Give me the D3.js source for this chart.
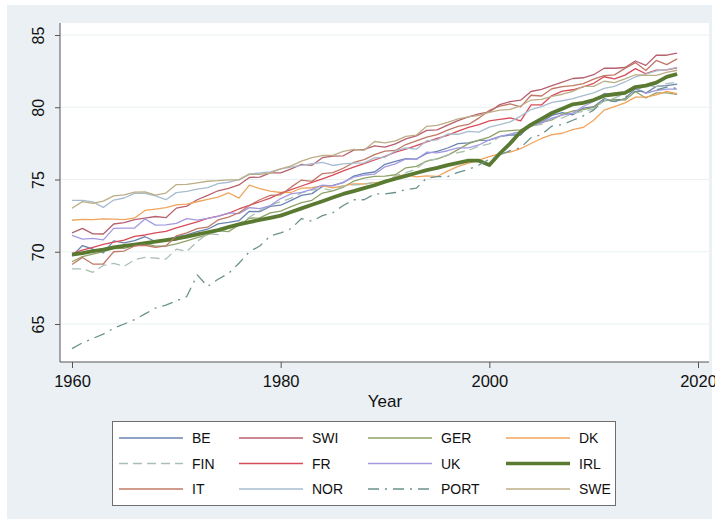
<!DOCTYPE html>
<html>
<head>
<meta charset="utf-8">
<script src="https://cdn.jsdelivr.net/npm/d3@7"></script>
<style>
  html, body { margin: 0; padding: 0; background: #ffffff; }
  svg { display: block; font-family: "Liberation Sans", Arial, Helvetica, sans-serif; }
</style>
</head>
<body>
<svg id="chart" width="715" height="523"></svg>
<script>
// ---------- data (life expectancy at birth, 1960-2018) ----------
const years = d3.range(1960, 2019);
const xTicks = [1960, 1980, 2000, 2020];
const yTicks = [65, 70, 75, 80, 85];
const countries = ["BE", "SWI", "GER", "DK", "FIN", "FR", "UK", "IRL", "IT", "NOR", "PORT", "SWE"];

const BE = [69.70,70.43,70.18,69.92,70.75,70.62,70.77,71.04,70.71,70.76,
  71.04,71.16,71.40,71.56,71.93,72.03,72.15,72.80,72.77,73.14,
  73.22,73.56,73.90,74.02,74.51,74.59,74.78,75.23,75.42,75.52,
  76.05,76.25,76.45,76.41,76.81,76.95,77.18,77.48,77.53,77.71,
  77.72,77.97,78.08,78.08,78.83,78.98,79.43,79.63,79.48,79.94,
  80.04,80.59,80.39,80.59,81.29,80.99,81.44,81.49,81.60];
const SWI = [71.31,71.62,71.24,71.23,71.92,72.01,72.23,72.33,72.44,72.36,
  73.02,73.16,73.60,73.90,74.22,74.38,74.62,75.14,75.17,75.46,
  75.46,75.74,76.04,75.98,76.51,76.62,76.64,77.03,77.09,77.33,
  77.24,77.46,77.81,78.02,78.40,78.43,78.76,79.08,79.33,79.54,
  79.68,80.18,80.39,80.49,81.09,81.24,81.49,81.74,81.99,82.04,
  82.25,82.70,82.70,82.75,83.20,82.90,83.60,83.60,83.75];
const GER = [69.31,69.66,69.83,70.01,70.22,70.24,70.42,70.56,70.39,70.39,
  70.54,70.75,70.97,71.19,71.44,71.39,71.85,72.32,72.35,72.69,
  72.81,73.12,73.40,73.56,74.06,74.21,74.47,74.88,75.09,75.22,
  75.23,75.33,75.81,75.91,76.27,76.42,76.67,77.07,77.48,77.73,
  77.93,78.33,78.38,78.43,78.68,78.93,79.13,79.53,79.74,79.84,
  79.99,80.44,80.54,80.49,81.09,80.64,80.99,80.99,80.89];
const DK = [72.18,72.24,72.23,72.28,72.26,72.23,72.34,72.86,72.95,73.05,
  73.24,73.29,73.46,73.63,73.78,74.08,73.71,74.61,74.37,74.20,
  74.10,74.10,74.41,74.43,74.56,74.43,74.56,74.70,74.69,74.79,
  74.81,75.21,75.33,75.18,75.25,75.21,75.58,75.91,76.14,76.34,
  76.59,76.79,76.90,77.14,77.49,77.84,78.10,78.20,78.45,78.60,
  79.10,79.80,80.05,80.30,80.70,80.70,80.85,81.10,80.95];
const FIN = [68.82,68.82,68.58,69.05,69.20,68.99,69.45,69.61,69.56,69.49,
  70.18,70.02,70.71,71.25,71.19,71.73,71.95,72.39,72.86,73.21,
  73.46,73.71,74.07,74.27,74.39,74.23,74.55,74.63,74.66,74.81,
  74.81,75.26,75.47,75.72,76.33,76.41,76.71,76.86,77.01,77.31,
  77.47,77.97,78.12,78.37,78.68,78.82,79.22,79.26,79.57,79.72,
  79.87,80.47,80.63,80.98,81.18,81.48,81.43,81.63,81.73];
const FR = [69.87,70.12,70.31,70.51,70.66,70.81,71.06,71.16,71.31,71.41,
  71.66,71.86,72.06,72.31,72.46,72.66,72.96,73.21,73.46,73.71,
  74.05,74.30,74.55,74.80,75.05,75.30,75.60,75.85,76.10,76.35,
  76.60,76.90,77.10,77.35,77.60,77.85,78.05,78.35,78.60,78.80,
  79.06,79.16,79.26,79.06,80.16,80.16,80.81,81.11,81.21,81.41,
  81.66,82.11,81.97,82.22,82.67,82.32,82.57,82.58,82.72];
const UK = [71.13,70.88,70.93,70.82,71.62,71.63,71.64,72.27,71.84,71.86,
  71.97,72.29,72.19,72.31,72.45,72.69,72.64,73.05,72.99,73.19,
  73.68,74.01,74.11,74.31,74.61,74.56,74.82,75.16,75.31,75.37,
  75.88,76.08,76.43,76.39,76.89,76.84,76.99,77.19,77.19,77.39,
  77.74,77.99,78.14,78.29,78.74,78.94,79.25,79.45,79.60,80.05,
  80.40,80.95,80.90,81.00,81.30,80.96,81.16,81.26,81.26];
const IRL = [69.80,69.90,70.05,70.15,70.30,70.40,70.50,70.60,70.70,70.80,
  70.90,71.05,71.20,71.35,71.50,71.70,71.90,72.05,72.20,72.35,
  72.50,72.75,73.00,73.25,73.50,73.75,74.00,74.20,74.40,74.60,
  74.85,75.05,75.25,75.45,75.65,75.80,76.00,76.15,76.30,76.30,
  76.00,76.80,77.50,78.30,78.80,79.20,79.60,79.90,80.20,80.30,
  80.50,80.80,80.90,81.00,81.40,81.50,81.70,82.10,82.30];
const IT = [69.12,69.60,69.15,69.15,70.00,70.05,70.40,70.45,70.30,70.40,
  71.10,71.30,71.60,71.70,72.20,72.40,72.70,73.20,73.60,73.90,
  73.94,74.47,74.96,74.87,75.41,75.47,75.78,76.18,76.38,76.72,
  76.97,77.01,77.42,77.68,77.93,78.11,78.42,78.67,78.81,79.25,
  79.78,80.08,80.23,80.03,80.83,80.78,81.28,81.43,81.49,81.64,
  81.95,82.19,82.24,82.69,83.09,82.54,83.24,82.95,83.35];
const NOR = [73.55,73.55,73.45,73.07,73.58,73.72,74.04,74.04,73.86,73.60,
  74.09,74.18,74.34,74.44,74.71,74.81,74.99,75.39,75.45,75.53,
  75.73,75.86,75.98,76.09,76.18,75.97,76.08,76.13,76.15,76.50,
  76.54,76.98,77.18,77.10,77.68,77.74,78.15,78.13,78.33,78.28,
  78.63,78.79,78.99,79.39,79.84,80.04,80.34,80.45,80.59,80.80,
  81.00,81.30,81.45,81.75,82.10,82.30,82.51,82.61,82.76];
const PORT = [63.3,63.7,64.0,64.3,64.7,65.0,65.3,65.7,66.1,66.3,
  66.6,66.9,68.4,67.6,68.1,68.5,69.2,70.0,70.4,71.1,
  71.3,71.6,72.3,72.1,72.5,72.7,73.2,73.6,73.6,74.0,
  74.0,74.1,74.3,74.4,75.1,75.2,75.2,75.5,75.7,76.0,
  76.4,76.7,77.0,77.2,77.9,78.1,78.7,78.8,79.1,79.4,
  79.8,80.5,80.4,80.7,81.1,81.1,81.2,81.4,81.3];
const SWE = [73.01,73.47,73.35,73.50,73.87,73.93,74.12,74.15,73.92,74.06,
  74.65,74.66,74.77,74.88,74.92,74.98,74.97,75.35,75.35,75.45,
  75.74,75.94,76.27,76.51,76.66,76.67,76.94,77.09,77.02,77.63,
  77.54,77.67,77.99,78.07,78.68,78.74,78.96,79.20,79.34,79.44,
  79.64,79.80,79.85,80.10,80.50,80.55,80.75,80.90,81.10,81.45,
  81.45,81.80,81.70,81.96,82.25,82.20,82.21,82.41,82.56];

const seriesValues = {BE, SWI, GER, DK, FIN, FR, UK, IRL, IT, NOR, PORT, SWE};

// ---------- styles ----------
const styles = {
  BE:   {color: "#6a84b0", width: 1.3, dash: null},
  SWI:  {color: "#b8606e", width: 1.3, dash: null},
  GER:  {color: "#8fa268", width: 1.3, dash: null},
  DK:   {color: "#f0a45c", width: 1.3, dash: null},
  FIN:  {color: "#a8c0b4", width: 1.3, dash: "9,5"},
  FR:   {color: "#d84c5a", width: 1.3, dash: null},
  UK:   {color: "#a49ae0", width: 1.3, dash: null},
  IRL:  {color: "#5a7a32", width: 3.8, dash: null},
  IT:   {color: "#c07866", width: 1.3, dash: null},
  NOR:  {color: "#a8bccf", width: 1.3, dash: null},
  PORT: {color: "#6a928c", width: 1.3, dash: "11,6,2,6"},
  SWE:  {color: "#bcae86", width: 1.3, dash: null}
};

// ---------- layout ----------
const svg = d3.select("#chart");
const plot = {left: 60, top: 23, right: 709, bottom: 362};

svg.append("rect").attr("x", 7).attr("y", 5).attr("width", 705).attr("height", 514)
  .attr("fill", "#eaf0f3");
svg.append("rect").attr("x", plot.left).attr("y", plot.top)
  .attr("width", plot.right - plot.left).attr("height", plot.bottom - plot.top)
  .attr("fill", "#ffffff");

const x = d3.scaleLinear().domain([1960, 2020]).range([72, 698]);
const y = d3.scaleLinear().domain([65, 85]).range([324, 35]);

// gridlines
svg.append("g").selectAll("line").data(yTicks).join("line")
  .attr("x1", plot.left).attr("x2", plot.right)
  .attr("y1", d => y(d)).attr("y2", d => y(d))
  .attr("stroke", "#eaf0f2").attr("stroke-width", 1.2);

// lines
const line = d3.line().x((d, i) => x(years[i])).y(d => y(d));
const gLines = svg.append("g");
countries.forEach(c => {
  const s = styles[c];
  gLines.append("path")
    .datum(seriesValues[c])
    .attr("d", line)
    .attr("fill", "none")
    .attr("stroke", s.color)
    .attr("stroke-width", s.width)
    .attr("stroke-linejoin", "round")
    .attr("stroke-dasharray", s.dash);
});

// axes
const axisColor = "#555555";
const yAxis = svg.append("g").attr("transform", `translate(${plot.left},0)`)
  .call(d3.axisLeft(y).tickValues(yTicks).tickSize(5).tickPadding(0).tickFormat(d3.format("d")));
yAxis.select(".domain").attr("d", `M0,${plot.top}V${plot.bottom}`).attr("stroke", axisColor);
yAxis.selectAll(".tick line").attr("stroke", axisColor);
yAxis.selectAll(".tick text")
  .attr("x", 0).attr("y", 0).attr("dy", null)
  .attr("transform", "translate(-16.5,0) rotate(-90)")
  .attr("text-anchor", "middle")
  .attr("fill", "#111").attr("font-size", 16);

const xAxis = svg.append("g").attr("transform", `translate(0,${plot.bottom})`)
  .call(d3.axisBottom(x).tickValues(xTicks).tickSize(6).tickFormat(d3.format("d")));
xAxis.select(".domain").attr("d", `M${plot.left},0H${plot.right}`).attr("stroke", axisColor);
xAxis.selectAll(".tick line").attr("stroke", axisColor);
xAxis.selectAll(".tick text")
  .attr("y", 25).attr("dy", null)
  .attr("fill", "#111").attr("font-size", 16.5);

svg.append("text").attr("x", 385).attr("y", 407).attr("text-anchor", "middle")
  .attr("font-size", 17).attr("fill", "#111").text("Year");

// legend
const lg = svg.append("g");
lg.append("rect").attr("x", 112.5).attr("y", 421.5).attr("width", 503).attr("height", 84)
  .attr("fill", "#ffffff").attr("stroke", "#6e6e6e").attr("stroke-width", 1);
const colX = [119, 239, 368, 506];
const rowY = [438, 463.5, 489];
countries.forEach((c, i) => {
  const col = i % 4, row = Math.floor(i / 4);
  const s = styles[c];
  const lx = colX[col], ly = rowY[row];
  lg.append("line").attr("x1", lx).attr("x2", lx + 64).attr("y1", ly).attr("y2", ly)
    .attr("stroke", s.color).attr("stroke-width", c === "IRL" ? 3.5 : 1.4)
    .attr("stroke-dasharray", s.dash);
  lg.append("text").attr("x", lx + 73).attr("y", ly + 5)
    .attr("font-size", 14).attr("fill", "#111").text(c);
});
</script>
</body>
</html>
